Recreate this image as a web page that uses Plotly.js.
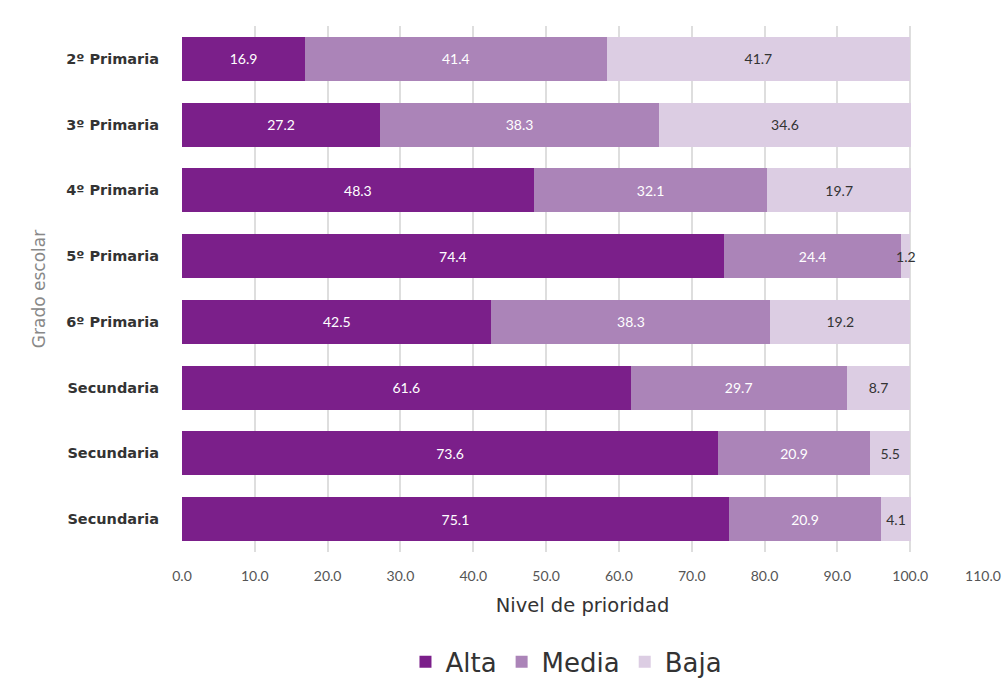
<!DOCTYPE html>
<html><head><meta charset="utf-8">
<script src="https://cdn.plot.ly/plotly-3.0.1.min.js"></script>
<style>html,body{margin:0;padding:0;background:#fff;}#chart{width:1008px;height:679px;}</style>
</head><body><div id="chart"></div>
<script>
const categories = ["2º Primaria","3º Primaria","4º Primaria","5º Primaria","6º Primaria","Secundaria","Secundaria","Secundaria"];
const alta  = [16.9, 27.2, 48.3, 74.4, 42.5, 61.6, 73.6, 75.1];
const media = [41.4, 38.3, 32.1, 24.4, 38.3, 29.7, 20.9, 20.9];
const baja  = [41.7, 34.6, 19.7, 1.2, 19.2, 8.7, 5.5, 4.1];
const xTicks = [0,10,20,30,40,50,60,70,80,90,100,110];
const xTickText = xTicks.map(v => v.toFixed(1));

const pos = categories.map((c,i) => i);
function fmt(a){ return a.map(v => v.toFixed(1)); }
function mk(name, vals, color, txtColor){
  return {type:'bar', orientation:'h', name:name, x:vals, y:pos,
    marker:{color:color}, width:0.67,
    text:fmt(vals), textposition:'inside', insidetextanchor:'middle', textangle:0,
    textfont:{family:'Lato, sans-serif', size:14, color:txtColor},
    hoverinfo:'x+name', cliponaxis:false};
}
const data = [
  mk('Alta', alta, '#7b1f8a', '#ffffff'),
  mk('Media', media, '#ab84b8', '#ffffff'),
  mk('Baja', baja, '#dccde3', '#333333')
];
const layout = {
  width:1008, height:679,
  margin:{l:182, r:25, t:26, b:127, autoexpand:false},
  barmode:'stack',
  paper_bgcolor:'#fff', plot_bgcolor:'#fff',
  uniformtext:{mode:'show', minsize:14},
  font:{family:'Lato, sans-serif'},
  xaxis:{range:[0,110], tickvals:xTicks, ticktext:xTickText,
    showgrid:true, gridcolor:'#dedede', gridwidth:1.5, zeroline:false, showline:false,
    tickfont:{family:'Lato, sans-serif', size:14, color:'#555'}, ticks:'',
    ticklabelstandoff:14,
    title:{text:'Nivel de prioridad', font:{family:'DejaVu Sans, sans-serif', size:19.5, color:'#333'}, standoff:15}},
  yaxis:{range:[7.5,-0.5], tickvals:pos, ticktext:categories, showgrid:false, zeroline:false, showline:false,
    tickfont:{family:'DejaVu Sans, sans-serif', size:14.5, color:'#333', weight:'bold'},
    ticklabelstandoff:22,
    title:{text:'Grado escolar', font:{family:'DejaVu Sans, sans-serif', size:17, color:'#888'}, standoff:16}},
  legend:{orientation:'h', x:0.48, xanchor:'center', y:-0.209, yanchor:'middle',
    font:{family:'DejaVu Sans, sans-serif', size:26, color:'#333'}, traceorder:'normal', itemwidth:30},
  showlegend:true
};
Plotly.newPlot('chart', data, layout, {displayModeBar:false});
</script></body></html>
